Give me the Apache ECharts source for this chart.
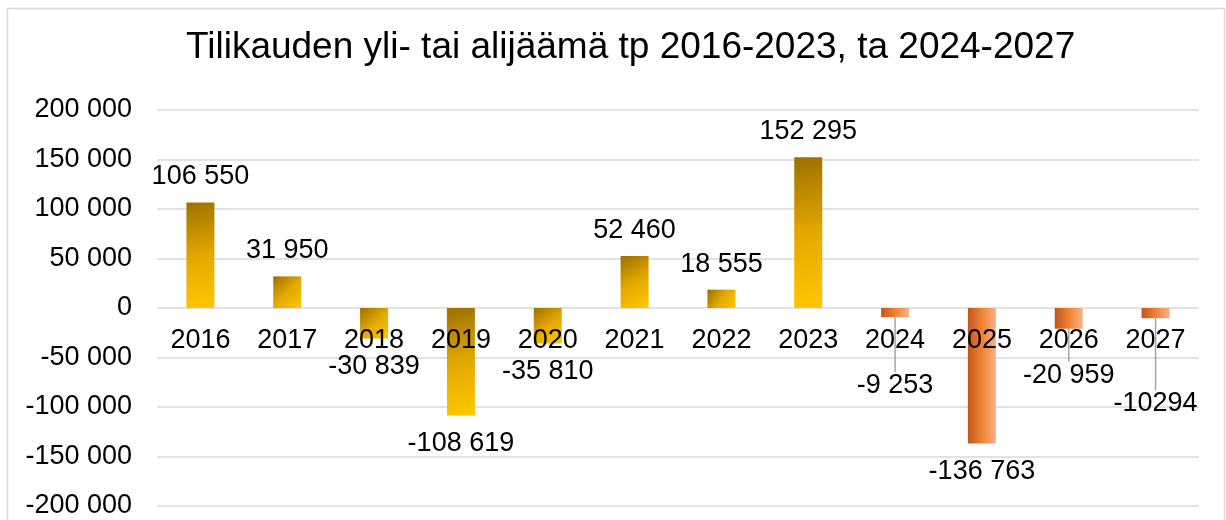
<!DOCTYPE html>
<html>
<head>
<meta charset="utf-8">
<script src="https://cdn.jsdelivr.net/npm/echarts@6/dist/echarts.min.js"></script>
<style>
html,body{margin:0;padding:0;background:#fff;}
#c{width:1226px;height:520px;}
</style>
</head>
<body>
<div id="c"></div>
<script>
const titleText = 'Tilikauden yli- tai alijäämä tp 2016-2023, ta 2024-2027';
const categories = ['2016','2017','2018','2019','2020','2021','2022','2023','2024','2025','2026','2027'];
const values = [106550, 31950, -30839, -108619, -35810, 52460, 18555, 152295, -9253, -136763, -20959, -10294];
const valueLabels = ['106 550','31 950','-30 839','-108 619','-35 810','52 460','18 555','152 295','-9 253','-136 763','-20 959','-10294'];
const periodType = ['tp','tp','tp','tp','tp','tp','tp','tp','ta','ta','ta','ta'];
const yTicks = [-200000, -150000, -100000, -50000, 0, 50000, 100000, 150000, 200000];

const FONT = 'Liberation Sans, Arial, sans-serif';
const goldFill = new echarts.graphic.LinearGradient(0, 0, 1, 1, [
  {offset: 0, color: '#9C7000'},
  {offset: 0.5, color: '#E3A800'},
  {offset: 1, color: '#FFC800'}
]);
const orangeFill = new echarts.graphic.LinearGradient(0, 0, 1, 0, [
  {offset: 0, color: '#C2561A'},
  {offset: 0.5, color: '#EF8234'},
  {offset: 1, color: '#F5B387'}
]);
// label moves (px) for crowded negative labels, by category index
const labelShift = {8: 40, 10: 18, 11: 57};

function fmt(v) {
  const s = String(Math.abs(v)).replace(/\B(?=(\d{3})+(?!\d))/g, ' ');
  return (v < 0 ? '-' : '') + s;
}

const seriesData = values.map((v, i) => ({
  value: v,
  itemStyle: {color: periodType[i] === 'tp' ? goldFill : orangeFill},
  label: v < 0 ? {position: 'bottom', distance: 15} : {position: 'top', distance: 12},
  labelLine: {show: labelShift[i] !== undefined}
}));

const GRID_TOP = 110, GRID_BOTTOM = 14, H = 520;
const zeroOffset = -((H - GRID_TOP - GRID_BOTTOM) / 2);

const chart = echarts.init(document.getElementById('c'), null, {renderer: 'canvas'});
chart.setOption({
  animation: false,
  backgroundColor: '#ffffff',
  title: {
    text: titleText,
    left: 186,
    top: 29,
    padding: 0,
    textStyle: {fontFamily: FONT, fontSize: 37, fontWeight: 'normal', color: '#000'}
  },
  graphic: [{
    type: 'rect',
    shape: {x: 7.5, y: 8.5, width: 1217, height: 530},
    style: {fill: 'none', stroke: '#d9d9d9', lineWidth: 1.5},
    silent: true
  }],
  grid: {left: 157, right: 27, top: GRID_TOP, bottom: GRID_BOTTOM, containLabel: false, outerBoundsMode: 'none'},
  xAxis: {
    type: 'category',
    data: categories,
    position: 'bottom',
    offset: zeroOffset,
    z: 10,
    axisLine: {show: false, onZero: false},
    axisTick: {show: false},
    axisLabel: {margin: 19, fontFamily: FONT, fontSize: 27, color: '#000'},
    splitLine: {show: false}
  },
  yAxis: {
    type: 'value',
    min: -200000,
    max: 200000,
    interval: 50000,
    axisLine: {show: false},
    axisTick: {show: false},
    axisLabel: {margin: 25, fontFamily: FONT, fontSize: 27, color: '#000',
      formatter: v => fmt(v)},
    splitLine: {lineStyle: {color: '#d9d9d9', width: 1.5}}
  },
  series: [{
    type: 'bar',
    barWidth: 28,
    data: seriesData,
    label: {
      show: true,
      fontFamily: FONT,
      fontSize: 27,
      color: '#000',
      formatter: p => valueLabels[p.dataIndex]
    },
    labelLine: {show: false, lineStyle: {color: '#a6a6a6', width: 1.5}},
    labelLayout: p => (labelShift[p.dataIndex] !== undefined ? {dy: labelShift[p.dataIndex]} : {})
  }]
});
</script>
</body>
</html>
